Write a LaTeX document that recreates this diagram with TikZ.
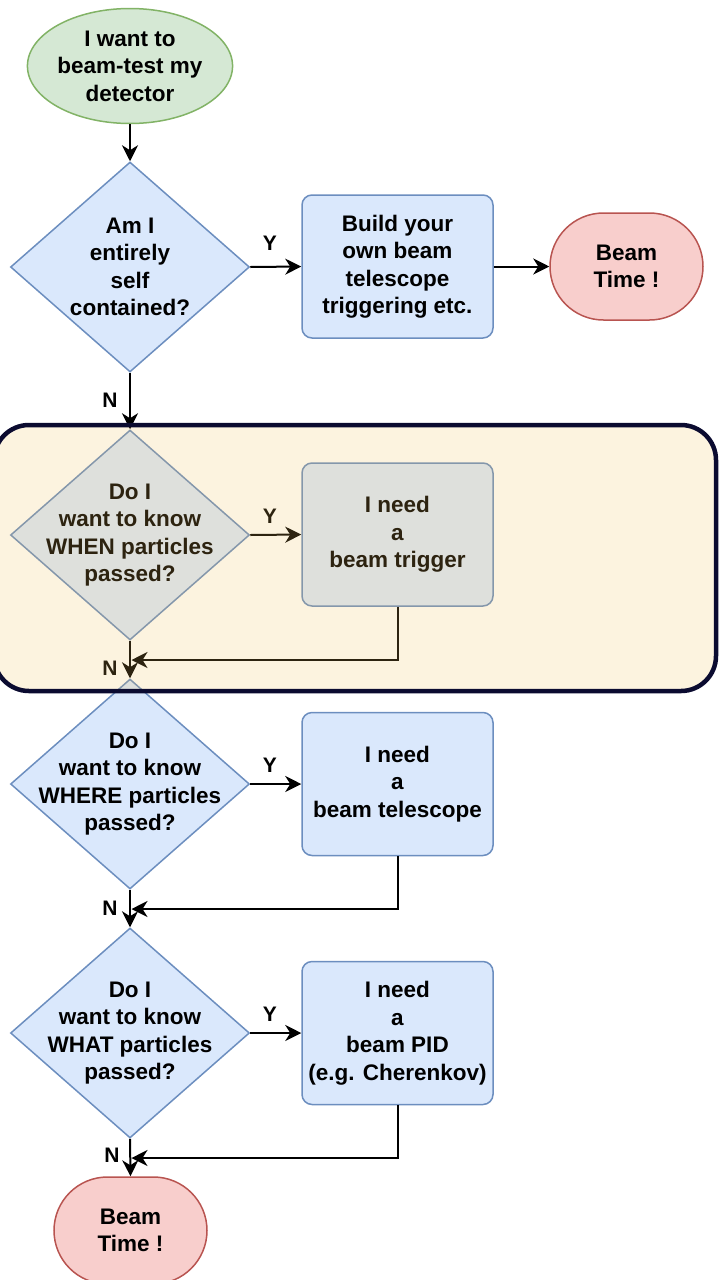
\documentclass[tikz,border=0pt]{standalone}
\usepackage{fontspec}
\setmainfont{Liberation Sans}
\usetikzlibrary{shapes.geometric,arrows.meta}
\definecolor{gfill}{HTML}{D5E8D4}
\definecolor{gstroke}{HTML}{82B366}
\definecolor{bfill}{HTML}{DAE8FC}
\definecolor{bstroke}{HTML}{6C8EBF}
\definecolor{rfill}{HTML}{F8CECC}
\definecolor{rstroke}{HTML}{B85450}
\definecolor{hlc}{RGB}{240,190,85}
\definecolor{hlborder}{HTML}{0B0B30}
\begin{document}
\begin{tikzpicture}[x=1pt,y=-1pt,
  txt/.style={font=\bfseries\fontsize{22.5}{27.5}\selectfont, align=center, inner sep=0pt},
  lbl/.style={font=\bfseries\fontsize{21}{24}\selectfont, inner sep=0pt},
  dec/.style={diamond, draw=bstroke, fill=bfill, line width=1.5pt, minimum width=239pt, minimum height=210pt, inner sep=0pt},
  proc/.style={txt, rectangle, rounded corners=10pt, draw=bstroke, fill=bfill, line width=1.5pt, minimum width=191pt, minimum height=143pt},
  term/.style={txt, rectangle, rounded corners=53.5pt, draw=rstroke, fill=rfill, line width=1.5pt, minimum width=153pt, minimum height=107pt},
  start/.style={txt, ellipse, draw=gstroke, fill=gfill, line width=1.5pt, minimum width=193pt, minimum height=115pt},
  conn/.style={line width=2pt, -{Stealth[length=16pt,width=16pt,inset=5pt]}},
]
\clip (0,0) rectangle (720,1280);

% nodes
\node[start] (s) at (130,66) {I want to\\beam-test my\\detector};

\node[dec] (d1) at (130,267) {};
\node[txt] (d1t) at (d1.center) {Am I\\entirely\\self\\contained?};
\node[proc] (b1) at (397.5,266.5) {Build your\\own beam\\telescope\\triggering etc.};
\node[term] (t1) at (626.5,266.5) {Beam\\Time !};

\node[dec] (d2) at (130,535) {};
\node[txt] (d2t) at (d2.center) {Do I\\want to know\\WHEN particles\\passed?};
\node[proc] (b2) at (397.5,534.5) {I need\\a\\beam trigger};

\node[dec] (d3) at (130,784) {};
\node[txt] (d3t) at (d3.center) {Do I\\want to know\\WHERE particles\\passed?};
\node[proc] (b3) at (397.5,784) {I need\\a\\beam telescope};

\node[dec] (d4) at (130,1033) {};
\node[txt] (d4t) at (d4.center) {Do I\\want to know\\WHAT particles\\passed?};
\node[proc] (b4) at (397.5,1033) {I need\\a\\beam PID\\(e.g. Cherenkov)};

\node[term] (t2) at (130.5,1230.5) {Beam\\Time !};

% merge points
\coordinate (m2) at (131.5,660);
\coordinate (m3) at (131.5,909);
\coordinate (m4) at (131.5,1158);

% connectors
\draw[conn] (s) -- (d1.north);
\draw[conn] (d1.east) -- (b1.west);
\draw[conn] (b1.east) -- (t1.west);
\draw[conn] (d1.south) -- (d2.north);
\draw[conn] (d2.east) -- (b2.west);
\draw[conn] (b2.south) |- (m2);
\draw[conn] (d2.south) -- (d3.north);
\draw[conn] (d3.east) -- (b3.west);
\draw[conn] (b3.south) |- (m3);
\draw[conn] (d3.south) -- (d4.north);
\draw[conn] (d4.east) -- (b4.west);
\draw[conn] (b4.south) |- (m4);
\draw[conn] (d4.south) -- (t2.north);

% labels
\node[lbl] (y1) at (270,243) {Y};
\node[lbl] (y2) at (270,516) {Y};
\node[lbl] (y3) at (270,765) {Y};
\node[lbl] (y4) at (270,1014) {Y};
\node[lbl] (n1) at (110,400) {N};
\node[lbl] (n2) at (110,668) {N};
\node[lbl] (n3) at (110,908) {N};
\node[lbl] (n4) at (112,1155) {N};

% highlight overlay
\fill[hlc, fill opacity=0.19, rounded corners=35pt] (-6,425) rectangle (716,691);
\draw[hlborder, line width=4.5pt, rounded corners=35pt] (-6,425) rectangle (716,691);
\end{tikzpicture}
\end{document}
